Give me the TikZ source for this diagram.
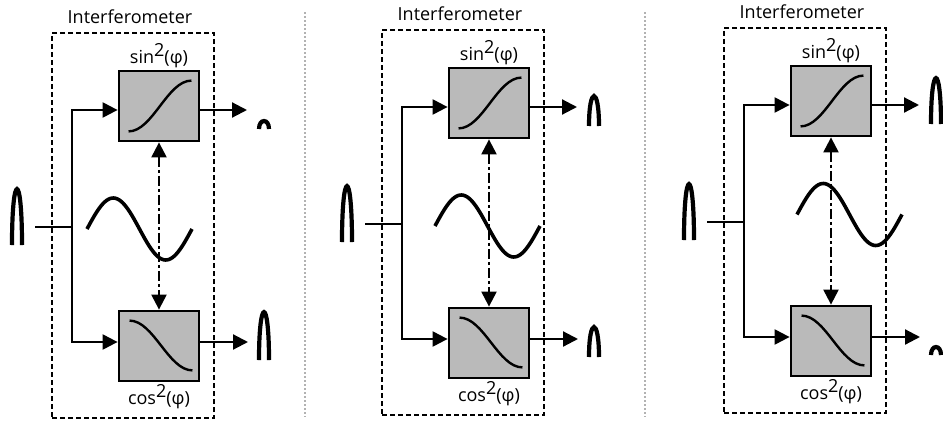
\documentclass[tikz,border=0pt]{standalone}
\usepackage{fontspec}
\setmainfont{Open Sans}
\usetikzlibrary{arrows.meta,positioning}

\tikzset{
  frame/.style={draw, dash pattern=on 5pt off 3pt, line width=1.6pt,
    minimum width=162pt, minimum height=385pt, inner sep=0pt},
  filt/.style={draw, line width=2.8pt, fill=black!27,
    minimum width=80pt, minimum height=70pt, inner sep=0pt},
  wire/.style={line width=2.2pt},
  sig/.style={line width=2.2pt, -{Triangle[length=15pt,width=15pt]}},
  ctrl/.style={line width=2.2pt, dash pattern=on 10pt off 3pt on 3pt off 3pt,
    {Triangle[length=15pt,width=15pt]}-{Triangle[length=15pt,width=15pt]}},
  curve/.style={line width=2.4pt},
  wave/.style={line width=3.6pt},
  pulse/.style={line width=4.2pt},
  lbl/.style={font=\fontsize{18}{20}\selectfont, inner sep=1pt},
}

\begin{document}
\begin{tikzpicture}[x=1pt,y=-1pt]
  \useasboundingbox (0,0) rectangle (943,423);
  % dotted separators between the panels
  \foreach \sx in {305,645}
    \draw[gray!60, line width=2pt, dotted] (\sx,12) -- (\sx,417);

  \foreach \dx/\dy/\sx/\sy/\hu/\hl/\p in {
      0/0/87/229/8/48/1,
      330/-3/105/229/30/30/2,
      672/-5/125/219.5/46/8/3}{
    \begin{scope}[shift={(\dx,\dy)}]
      \node[lbl] (title\p) at (130,17) {Interferometer};
      \node[frame] (ifm\p) at (133,225.5) {};
      \node[filt] (up\p) at (159,106) {};
      \node[filt] (lo\p) at (159,346) {};
      \node[lbl, above=1pt of up\p] (ls\p) {sin\raisebox{0.36em}{2}(φ)};
      \node[lbl, below=1pt of lo\p] (lc\p) {cos\raisebox{0.36em}{2}(φ)};

      % transfer curves
      \draw[curve] ([shift={(11,-11)}]up\p.south west) .. controls +(24,0) and +(-24,0) .. ([shift={(-9,11)}]up\p.north east);
      \draw[curve] ([shift={(12,11)}]lo\p.north west) .. controls +(24,0) and +(-24,0) .. ([shift={(-8,-12)}]lo\p.south east);

      % input and split
      \coordinate (in\p) at (35,227);
      \coordinate (br\p) at (72,227);
      \coordinate (bu\p) at (72,110);
      \coordinate (bl\p) at (72,342);
      \draw[wire] (in\p) -- (br\p);
      \draw[wire, {Triangle[length=15pt,width=15pt]}-{Triangle[length=15pt,width=15pt]}]
        (bu\p -| up\p.west) -- (bu\p) -- (bl\p) -- (bl\p -| lo\p.west);

      % outputs
      \coordinate (ou\p) at (247,110);
      \coordinate (ol\p) at (248,342);
      \draw[sig] (up\p.east |- ou\p) -- (ou\p);
      \draw[sig] (lo\p.east |- ol\p) -- (ol\p);

      % phase control
      \draw[ctrl] (up\p.south) -- (lo\p.north);
      \draw[wave] plot[domain=0:360, samples=60] ({\sx+\x/360*105},{\sy-31*sin(\x)});

      % pulses
      \foreach \px/\py/\ph in {17/245/56, 264/129/\hu, 264/360/\hl}
        \draw[pulse] ({\px-5},\py) .. controls ({\px-5},{\py-1.33*\ph}) and ({\px+5},{\py-1.33*\ph}) .. ({\px+5},\py);
    \end{scope}
  }
\end{tikzpicture}
\end{document}
